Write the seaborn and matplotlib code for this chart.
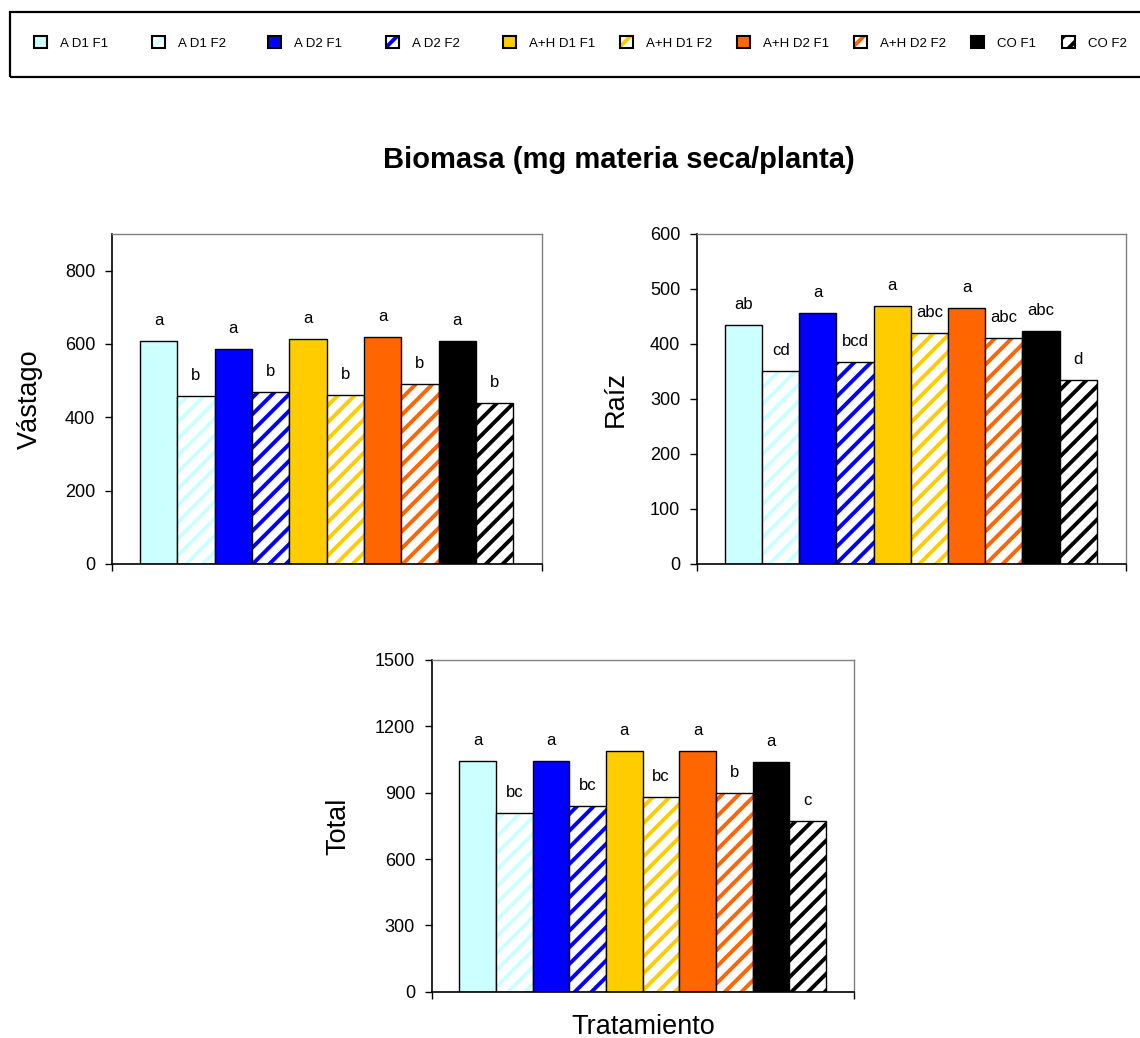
import matplotlib
matplotlib.use("Agg")
import matplotlib.pyplot as plt
import matplotlib.colors as mcolors
from matplotlib.patches import Patch, Rectangle
import seaborn as sns
import pandas as pd

# ---------------- data ----------------
treatments = ["A D1 F1", "A D1 F2", "A D2 F1", "A D2 F2",
              "A+H D1 F1", "A+H D1 F2", "A+H D2 F1", "A+H D2 F2",
              "CO F1", "CO F2"]
colors = ["#CCFFFF", "#CCFFFF", "#0000FF", "#0000FF",
          "#FFCC00", "#FFCC00", "#FF6600", "#FF6600",
          "#000000", "#000000"]
hatched = [False, True, False, True, False, True, False, True, False, True]

vastago = [607, 457, 586, 468, 614, 461, 619, 490, 607, 439]
vastago_letters = ["a", "b", "a", "b", "a", "b", "a", "b", "a", "b"]

raiz = [435, 351, 457, 368, 469, 420, 466, 411, 424, 334]
raiz_letters = ["ab", "cd", "a", "bcd", "a", "abc", "a", "abc", "abc", "d"]

total = [1045, 808, 1045, 838, 1087, 880, 1087, 900, 1037, 773]
total_letters = ["a", "bc", "a", "bc", "a", "bc", "a", "b", "a", "c"]

title = "Biomasa (mg materia seca/planta)"
xlabel = "Tratamiento"

# ---------------- style ----------------
sns.set_style("white")
plt.rcParams["font.family"] = ["Liberation Sans", "DejaVu Sans"]
plt.rcParams["hatch.linewidth"] = 2.8
for k in ["text.color", "axes.labelcolor", "xtick.color", "ytick.color"]:
    plt.rcParams[k] = "black"

W, H = 1140, 1038
fig = plt.figure(figsize=(W / 100, H / 100), dpi=100)


def set_hatch_color(p, c):
    rgba = mcolors.to_rgba(c)
    if hasattr(p, "set_hatchcolor"):
        p.set_hatchcolor(rgba)
    else:
        p._hatch_color = rgba


def panel(rect_px, values, letters, ylim, yticks, ylabel, ylab_x, xlab=None):
    x0, y0, x1, y1 = rect_px
    ax = fig.add_axes([x0 / W, 1 - y1 / H, (x1 - x0) / W, (y1 - y0) / H])
    df = pd.DataFrame({"trat": treatments, "val": values})
    sns.barplot(data=df, x="trat", y="val", hue="trat", order=treatments,
                hue_order=treatments, palette=colors, width=1.0,
                edgecolor="black", linewidth=1.0, legend=False,
                saturation=1, ax=ax)
    bars = sorted(ax.patches, key=lambda p: p.get_x())
    for p, c, h, lab in zip(bars, colors, hatched, letters):
        if h:
            p.set_facecolor("white")
            p.set_hatch("//")
            set_hatch_color(p, c)
        ax.annotate(lab, xy=(p.get_x() + p.get_width() / 2, p.get_height()),
                    xytext=(0, 11.5), textcoords="offset points",
                    ha="center", va="baseline", fontsize=12, color="black")
    ax.set_xlim(-1.25, 10.27)
    ax.set_ylim(*ylim)
    ax.set_yticks(yticks)
    ax.set_xticks(list(ax.get_xlim()))
    ax.set_xticklabels([])
    ax.tick_params(axis="both", direction="out", length=5, width=1,
                   colors="black", labelsize=13, pad=7,
                   left=True, bottom=True)
    for s in ["left", "bottom"]:
        ax.spines[s].set_color("black")
        ax.spines[s].set_linewidth(1.2)
    for s in ["top", "right"]:
        ax.spines[s].set_color("#808080")
        ax.spines[s].set_linewidth(1.0)
    ax.set_ylabel(ylabel, fontsize=19.5, va="center", color="black")
    ax.yaxis.set_label_coords(ylab_x, 0.5)
    if xlab:
        ax.set_xlabel(xlab, fontsize=19.5, va="center", color="black")
        ax.xaxis.set_label_coords(0.5, -0.106)
    else:
        ax.set_xlabel("")
    return ax


panel((112, 234, 542, 564), vastago, vastago_letters, (0, 900),
      [0, 200, 400, 600, 800], "Vástago", -0.19)
panel((697, 234, 1125.5, 564), raiz, raiz_letters, (0, 600),
      [0, 100, 200, 300, 400, 500, 600], "Raíz", -0.19)
panel((431.7, 660, 854.3, 991.7), total, total_letters, (0, 1500),
      [0, 300, 600, 900, 1200, 1500], "Total", -0.222, xlab=xlabel)

fig.text(619 / W, 1 - 160 / H, title, ha="center", va="center",
         fontsize=21, fontweight="bold", color="black")

# legend frame
fig.add_artist(Rectangle((10 / W, 1 - 77 / H), 1.2, 65 / H,
                         transform=fig.transFigure, fill=False,
                         edgecolor="black", linewidth=1.6))

# legend entries (uniform pitch as in the reference)
leg_x = [34, 152, 268, 386, 503, 620, 737, 854, 971, 1062]
for i, (name, c, h) in enumerate(zip(treatments, colors, hatched)):
    if h:
        hp = Patch(facecolor="white", edgecolor="black", linewidth=1.5,
                   hatch="//", label=name)
        set_hatch_color(hp, c)
    else:
        hp = Patch(facecolor=c, edgecolor="black", linewidth=1.5, label=name)
    fig.legend(handles=[hp], loc="center left",
               bbox_to_anchor=(leg_x[i] / W, 1 - 43 / H),
               frameon=False, fontsize=9.5, handlelength=1.0,
               handleheight=1.0, handletextpad=1.0, borderpad=0,
               borderaxespad=0, labelcolor="black")

fig.savefig("out.png", dpi=100)
